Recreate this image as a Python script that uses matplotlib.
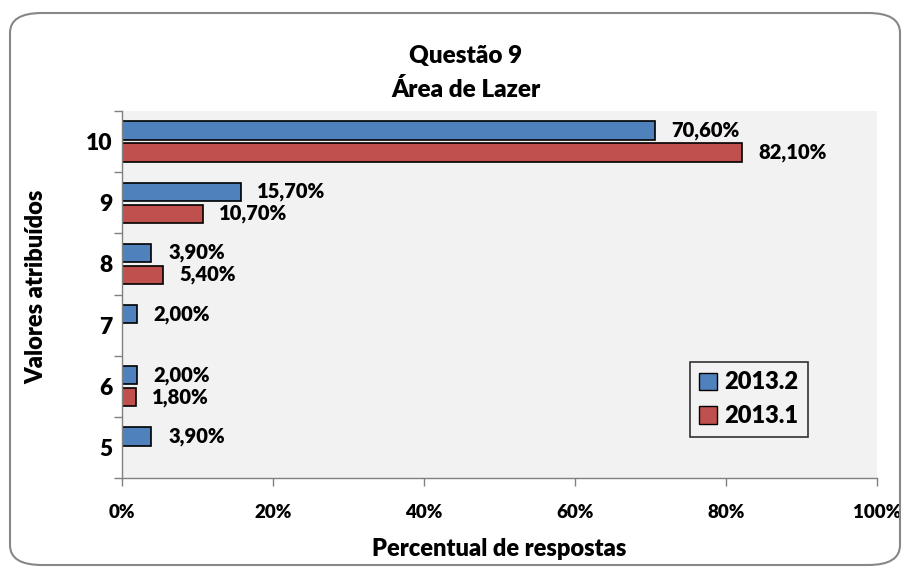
import matplotlib
matplotlib.use("Agg")
import matplotlib.pyplot as plt
from matplotlib.patches import FancyBboxPatch, Patch
import numpy as np

categories = ["5", "6", "7", "8", "9", "10"]
s2013_2 = [3.9, 2.0, 2.0, 3.9, 15.7, 70.6]
s2013_1 = [None, 1.8, None, 5.4, 10.7, 82.1]
xticks = [0, 20, 40, 60, 80, 100]
xtick_labels = ["0%", "20%", "40%", "60%", "80%", "100%"]

plt.rcParams['font.family'] = ['Lato', 'DejaVu Sans']
W = 800  # heavy

blue = "#4F81BD"
red = "#C0504D"

fig = plt.figure(figsize=(9.12, 5.67), dpi=100)
ax = fig.add_axes([122/912, 1-478/567, (877-122)/912, (478-111)/567])
ax.set_facecolor("#F2F2F2")

y = np.arange(len(categories))
h = 0.3
off = 0.18
for i, (b, r) in enumerate(zip(s2013_2, s2013_1)):
    if b is not None:
        ax.barh(y[i] + off, b, height=h, color=blue, edgecolor="black", linewidth=1.2)
        ax.annotate(f"{b:.2f}%".replace(".", ","), (b, y[i] + off), xytext=(12, 0),
                    textcoords="offset points", va="center", ha="left",
                    fontsize=14.5, fontweight=W)
    if r is not None:
        ax.barh(y[i] - off, r, height=h, color=red, edgecolor="black", linewidth=1.2)
        ax.annotate(f"{r:.2f}%".replace(".", ","), (r, y[i] - off), xytext=(12, 0),
                    textcoords="offset points", va="center", ha="left",
                    fontsize=14.5, fontweight=W)

ax.set_xlim(0, 100)
ax.set_ylim(-0.5, len(categories) - 0.5)
ax.set_xticks(xticks)
ax.set_xticklabels(xtick_labels, fontsize=13.5, fontweight=W)
ax.set_yticks(y)
ax.set_yticklabels(categories, fontsize=16.5, fontweight=W)
ax.set_yticks(np.arange(-0.5, len(categories)), minor=True)
ax.tick_params(axis="y", which="major", length=0, pad=7)
ax.tick_params(axis="y", which="minor", length=6, color="#808080", width=1)
ax.tick_params(axis="x", which="major", length=6, color="#808080", width=1, pad=13)
for s in ["top", "right"]:
    ax.spines[s].set_visible(False)
for s in ["left", "bottom"]:
    ax.spines[s].set_color("#808080")
    ax.spines[s].set_linewidth(1)

ax.set_xlabel("Percentual de respostas", fontsize=17, fontweight=W, va="top")
ax.xaxis.set_label_coords(0.5, (478 - 538) / 367)
ax.set_ylabel("Valores atribuídos", fontsize=17, fontweight=W)
ax.yaxis.set_label_coords((47 - 122) / 755, (478 - 287) / 367)

cx = 466 / 912
fig.text(cx, 1 - 63/567, "Questão 9", ha="center", va="baseline",
         fontsize=17.5, fontweight=W)
fig.text(cx, 1 - 97/567, "Área de Lazer", ha="center", va="baseline",
         fontsize=17.5, fontweight=W)

handles = [Patch(facecolor=blue, edgecolor="black", label="2013.2"),
           Patch(facecolor=red, edgecolor="black", label="2013.1")]
leg = ax.legend(handles=handles, loc="upper left",
                bbox_to_anchor=((690 - 122) / 755, (478 - 362) / 367),
                borderaxespad=0, frameon=True, fancybox=False, handlelength=0.75,
                handleheight=0.75, handletextpad=0.3, borderpad=0.4, labelspacing=0.5,
                prop={"weight": W, "size": 17})
leg.get_frame().set_edgecolor("black")
leg.get_frame().set_linewidth(1.2)
leg.get_frame().set_facecolor("#F2F2F2")

border = FancyBboxPatch((10/912, 1 - 565/567), (900-10)/912, (565-13)/567,
                        boxstyle="round,pad=0,rounding_size=0.035",
                        transform=fig.transFigure, facecolor="none",
                        edgecolor="#878787", linewidth=1.5, clip_on=False)
fig.patches.append(border)

fig.savefig("out.png", dpi=100)
